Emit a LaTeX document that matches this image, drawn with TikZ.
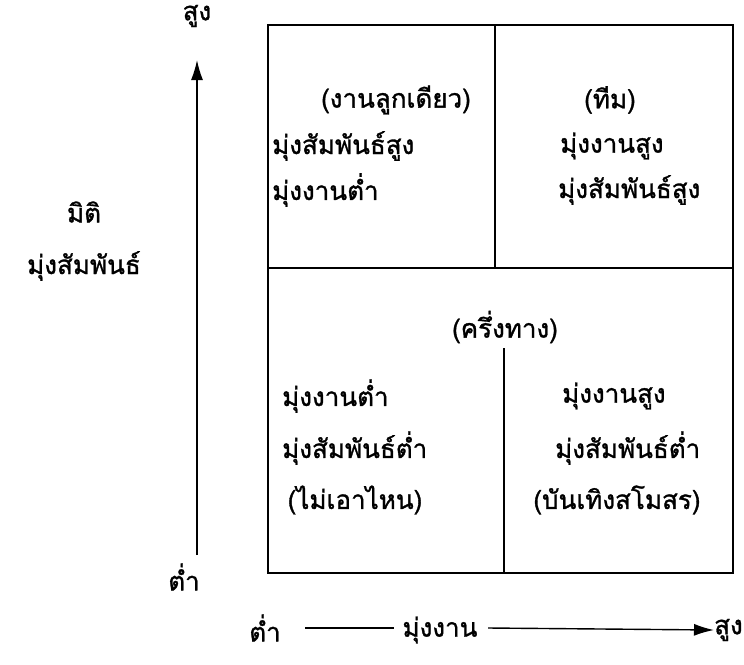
\documentclass[tikz,border=0pt]{standalone}
\usepackage{fontspec}
\newfontfamily\thaifont[Script=Thai,FakeBold=1.2]{Loma}
\usetikzlibrary{arrows.meta}
\begin{document}
\begin{tikzpicture}[x=1pt,y=-1pt,
  txt/.style={font=\thaifont\fontsize{26}{30}\selectfont, inner sep=0pt},
  lbl/.style={txt, anchor=west},
  ttl/.style={txt, anchor=center},
  gridline/.style={line width=1.5pt},
  axis/.style={line width=1.4pt},
  axtip/.style={-{Latex[length=20pt,width=12pt]}}]
\useasboundingbox (0,0) rectangle (744,664);
% box
\draw[gridline] (268,25) rectangle (733,573);
\draw[gridline] (268,268) -- (733,268);
\draw[gridline] (495,25) -- (495,268);
\coordinate (dtop) at (504,348);
\coordinate (dbot) at (504,573);
\draw[gridline] (dtop) -- (dbot);
% left axis
\node[ttl] (hiv) at (197,16) {สูง};
\node[ttl] (lov) at (184,577) {ต่ำ};
\coordinate (vbot) at (197,555);
\coordinate (vtop) at (197,60);
\draw[axis,axtip] (vbot) -- (vtop);
\node[ttl] (miti) at (84,212) {มิติ};
\node[ttl] (mungsam) at (84,266) {มุ่งสัมพันธ์};
% bottom axis
\node[ttl] (loh) at (265,628) {ต่ำ};
\node[ttl] (mungngan) at (440,630) {มุ่งงาน};
\node[lbl] (hih) at (714,630) {สูง};
\coordinate (h1) at (305,628);
\coordinate (h2) at (394,628);
\coordinate (h3) at (488,628);
\draw[axis] (h1) -- (h2);
\draw[axis,axtip] (h3) -- (hih.west);
% top-left
\node[ttl] (tl0) at (396,100) {(งานลูกเดียว)};
\node[lbl] (tl1) at (272,146) {มุ่งสัมพันธ์สูง};
\node[lbl] (tl2) at (272,190) {มุ่งงานต่ำ};
% top-right
\node[ttl] (tr0) at (610,100) {(ทีม)};
\node[lbl] (tr1) at (560,146) {มุ่งงานสูง};
\node[lbl] (tr2) at (558,190) {มุ่งสัมพันธ์สูง};
% middle
\node[ttl] (mid0) at (505,327) {(ครึ่งทาง)};
% bottom-left
\node[lbl] (bl1) at (282,396) {มุ่งงานต่ำ};
\node[lbl] (bl2) at (282,448) {มุ่งสัมพันธ์ต่ำ};
\node[ttl] (bl3) at (355,500) {(ไม่เอาไหน)};
% bottom-right
\node[lbl] (br1) at (562,396) {มุ่งงานสูง};
\node[lbl] (br2) at (555,448) {มุ่งสัมพันธ์ต่ำ};
\node[ttl] (br3) at (617,500) {(บันเทิงสโมสร)};
\end{tikzpicture}
\end{document}
